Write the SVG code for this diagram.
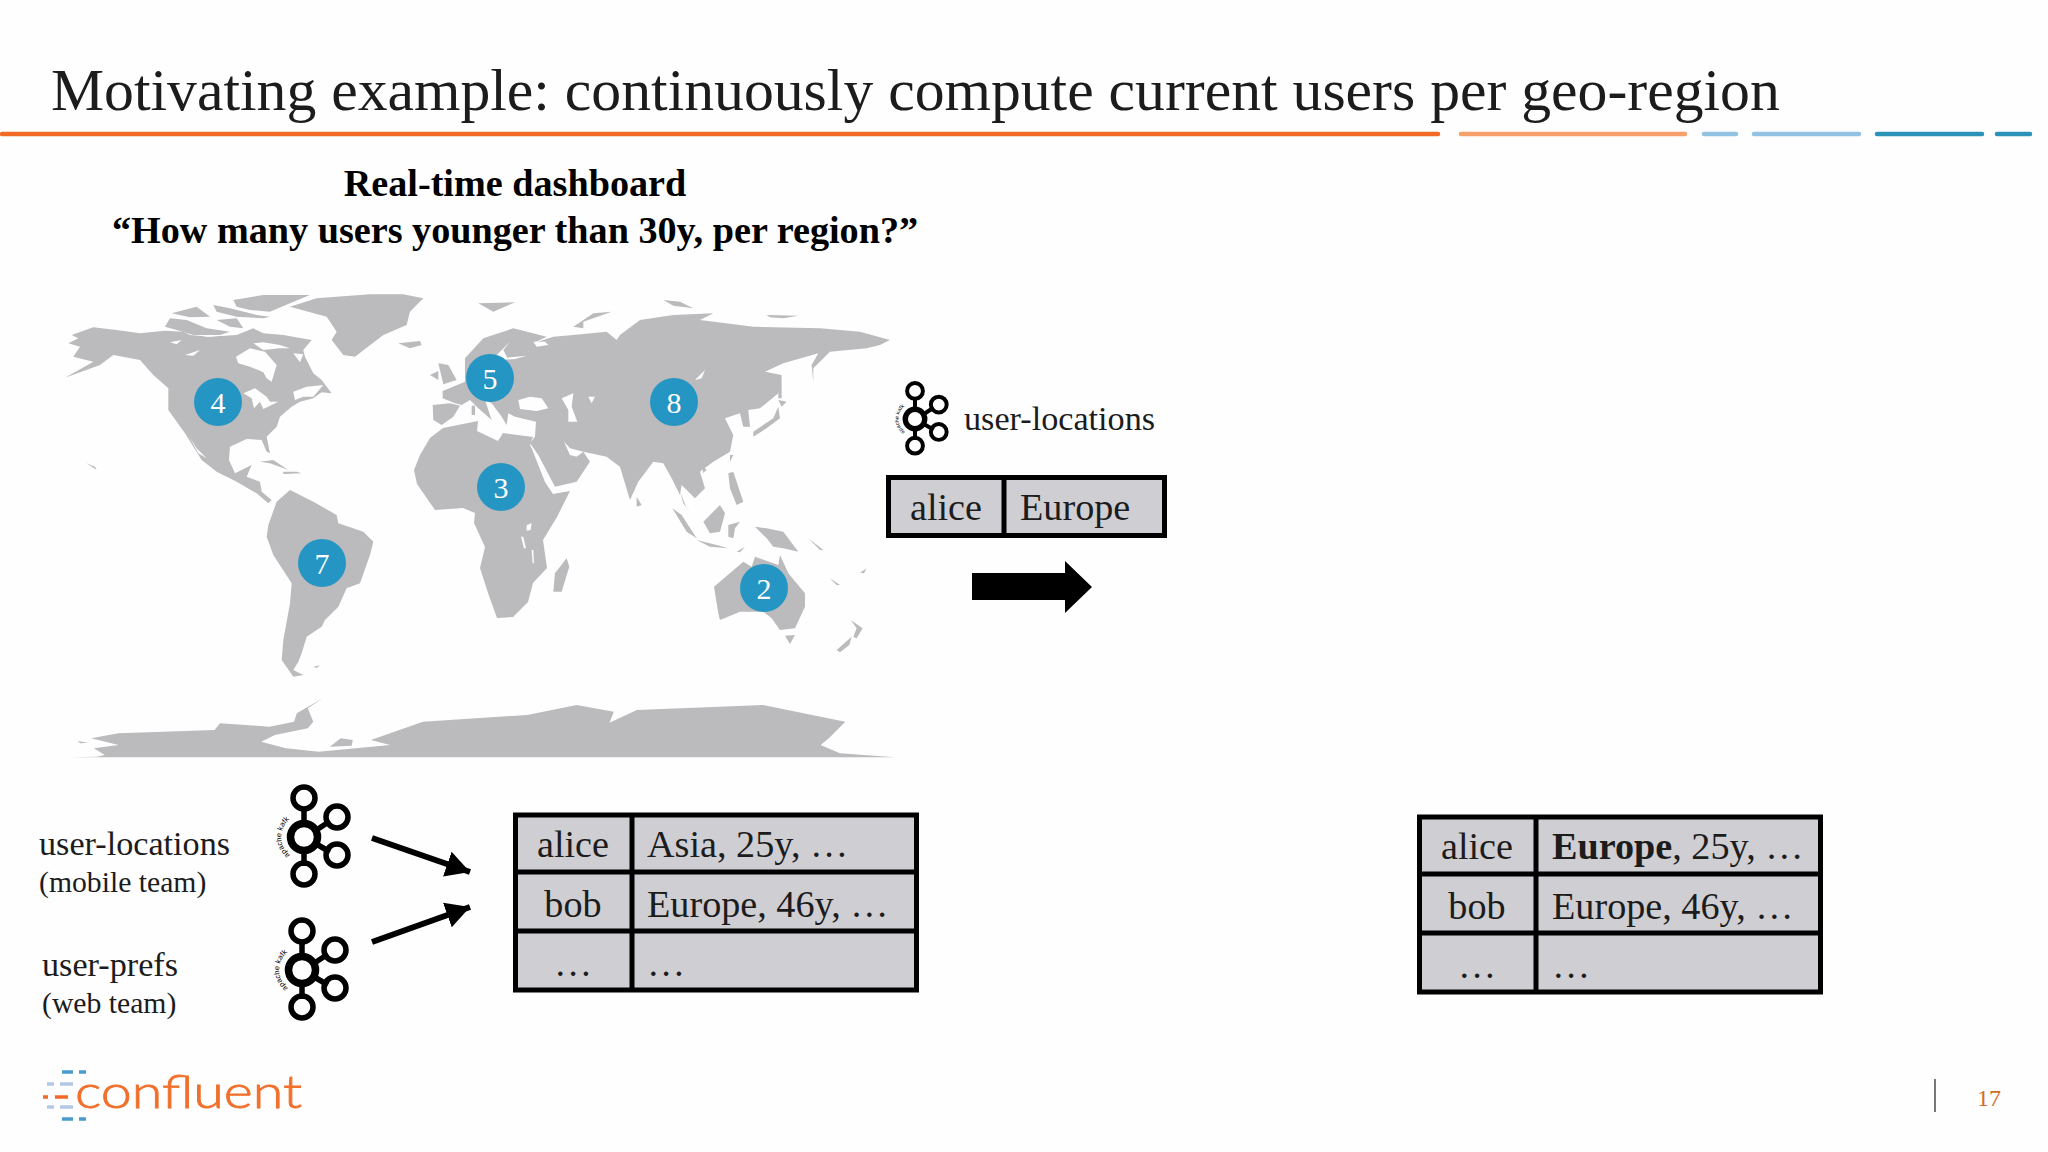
<svg xmlns="http://www.w3.org/2000/svg" xmlns:xlink="http://www.w3.org/1999/xlink" width="2048" height="1152" viewBox="0 0 2048 1152">
<style>
text{font-family:"Liberation Serif","Times New Roman",serif;fill:#1c1c1c}
.cell{font-size:38.200px}
.lab{font-size:34.200px}
.sub{font-size:29.700px}
.head{font-size:38.200px;font-weight:bold;text-anchor:middle;fill:#000}
.mid{text-anchor:middle}
.num{font-size:30px;fill:#fff;text-anchor:middle}
.tb{fill:#cfced2;stroke:#000;stroke-width:5}
.ln{stroke:#000;stroke-width:5;fill:none}
.land polygon{fill:#bbbabc}
.land polygon.sea{fill:#fefefe}
.pin{fill:#2596c4}
.bar{stroke-width:4.500px;stroke-linecap:round;fill:none}
.dash{stroke-width:3.500px;fill:none}
.kr{fill:none;stroke:#000;stroke-width:5.500px}
.kl{stroke:#000;stroke-width:5.500px}
.kc{fill:none;stroke:#000;stroke-width:7.500px}
.kt{font-family:"Liberation Sans",sans-serif;font-size:7.500px;fill:#000}
</style>
<defs>
<marker id="ah" markerUnits="userSpaceOnUse" markerWidth="26" markerHeight="28" refX="24" refY="14" orient="auto"><path d="M0,1 L24,14 L0,27 Z" fill="#000"/></marker>
<path id="karc" d="M290,855 A22.800,22.800 0 0 1 290,819"/>
<g id="kafka">
<line class="kl" x1="304" y1="808" x2="304" y2="866"/>
<line class="kl" x1="318" y1="829" x2="330" y2="821"/>
<line class="kl" x1="318" y1="845" x2="330" y2="852"/>
<circle class="kr" cx="304" cy="798" r="11"/>
<circle class="kr" cx="337" cy="817" r="11"/>
<circle class="kr" cx="337" cy="855" r="11"/>
<circle class="kr" cx="304" cy="874" r="11"/>
<circle cx="304" cy="837" r="14" fill="#fefefe"/>
<circle class="kc" cx="304" cy="837" r="13.500"/>
<text class="kt"><textPath xlink:href="#karc" href="#karc">apache kafka</textPath></text>
</g>
</defs>
<rect width="2048" height="1152" fill="#fefefe"/>

<g id="title">
<text x="51" y="110" font-size="59.700">Motivating example: continuously compute current users per geo-region</text>
<line class="bar" x1="2" y1="134" x2="1438" y2="134" stroke="#f26a25"/>
<line class="bar" x1="1461" y1="134" x2="1685" y2="134" stroke="#f6a06c"/>
<line class="bar" x1="1704" y1="134" x2="1736" y2="134" stroke="#92c3e2"/>
<line class="bar" x1="1754" y1="134" x2="1859" y2="134" stroke="#92c3e2"/>
<line class="bar" x1="1877" y1="134" x2="1982" y2="134" stroke="#2b93b8"/>
<line class="bar" x1="1997" y1="134" x2="2030" y2="134" stroke="#2b93b8"/>
</g>

<g id="heading">
<text class="head" x="515" y="196">Real-time dashboard</text>
<text class="head" x="515" y="243">“How many users younger than 30y, per region?”</text>
</g>

<g id="map" class="land">
<g transform="translate(50,285) scale(0.3333)">
<polygon points="65,150 130,127 200,135 270,145 345,137 400,140 470,155 560,150 610,130 640,145 700,150 785,165 760,195 765,215 790,265 815,285 845,325 815,322 790,340 750,350 725,365 690,395 680,425 650,455 660,505 650,500 635,465 590,462 540,485 537,525 555,565 605,540 590,575 630,590 635,620 665,645 655,655 620,625 560,590 500,560 455,525 405,445 355,375 355,310 310,270 270,225 190,210 150,240 45,278 130,230 70,215 90,185 55,175 85,160"/>
<polygon class="sea" points="558,215 600,190 645,200 680,240 665,290 650,280 640,262 600,245 565,235"/>
<polygon class="sea" points="580,325 615,310 650,335 660,350 685,350 640,372 630,350 612,370 605,340"/>
<polygon class="sea" points="730,320 770,305 820,300 790,335 760,335 735,345"/>
<polygon class="sea" points="418,455 440,490 470,520 445,505"/>
<polygon class="sea" points="360,172 395,165 380,178"/>
<polygon class="sea" points="405,210 450,195 430,212"/>
<polygon class="sea" points="610,175 640,172 690,180 720,190 690,190 640,195"/>
<polygon class="sea" points="400,140 470,145 540,150 480,155 420,150"/>
<polygon class="sea" points="730,205 760,208 750,232"/>
<polygon points="345,125 360,100 410,105 470,130 540,140 510,150 430,150 380,135"/>
<polygon points="365,85 440,65 480,95 420,97"/>
<polygon points="490,60 540,70 620,90 660,95 640,100 560,95 500,80"/>
<polygon points="550,45 640,30 780,30 720,55 660,80 600,75 560,65"/>
<polygon points="500,105 560,100 580,130 540,125"/>
<polygon points="720,65 800,40 960,28 1060,28 1120,40 1080,80 1070,120 1000,150 915,215 880,210 845,165 860,140 830,95"/>
<polygon points="1045,175 1110,168 1115,180 1080,190"/>
<polygon points="630,530 670,525 715,555 660,535"/>
<polygon points="700,560 740,560 755,565 700,567"/>
<polygon points="110,535 135,545 140,555"/>
</g>
<g transform="translate(420,285) scale(0.3333)">
<polygon points="68,318 135,290 135,220 190,160 280,130 380,155 340,175 400,155 460,150 560,140 590,165 600,150 660,105 760,90 880,85 840,105 1000,125 1200,130 1320,140 1410,165 1380,180 1340,190 1230,200 1180,250 1180,290 1175,240 1195,205 1090,235 1035,260 1085,270 1075,325 1020,370 985,375 990,425 970,425 960,385 915,400 940,450 930,500 880,530 840,560 855,610 825,640 785,600 780,630 755,580 730,535 700,530 655,590 630,645 600,545 560,515 490,500 510,530 470,590 405,605 355,510 330,475 345,455 348,410 285,395 265,385 260,420 245,395 215,355 195,345 215,405 170,365 150,345 125,360 105,355 68,340"/>
<polygon class="sea" points="295,345 330,335 365,340 385,370 350,378 300,372"/>
<polygon class="sea" points="425,340 460,325 455,365 472,410 445,410 445,375"/>
<polygon class="sea" points="505,335 525,335 515,355"/>
<polygon class="sea" points="225,215 270,170 250,195 262,218 320,212 285,222 235,225"/>
<polygon class="sea" points="432,470 450,490 490,500 470,515 450,510"/>
<polygon class="sea" points="825,285 855,255 845,280"/>
<polygon class="sea" points="340,170 375,170 385,180 350,185"/>
<polygon points="38,360 90,355 120,362 100,395 65,420 40,405"/>
<polygon points="55,235 85,240 110,285 70,298"/>
<polygon points="30,270 55,258 55,285"/>
<polygon points="175,55 285,52 220,80"/>
<polygon points="460,125 520,85 575,80 490,110 490,130"/>
<polygon points="730,45 780,50 820,70 760,62"/>
<polygon points="1040,90 1135,92 1090,100 1050,97"/>
<polygon points="1000,440 1060,400 1075,365 1080,400 1040,430 1000,455"/>
<polygon points="1075,345 1100,350 1085,365"/>
<polygon points="1075,280 1085,275 1085,340 1075,340"/>
<polygon points="930,510 940,510 930,530"/>
<polygon points="850,545 860,555 848,565"/>
<polygon points="925,565 940,560 970,650 950,660 930,610"/>
<polygon points="650,635 665,660 650,665"/>
<polygon points="155,362 165,362 165,390 155,390"/>
</g>
<polygon points="443,428 478,421 477,431 498,441 503,433 533,437 530,445 532,449 545,482 553,494 570,491 557,517 543,540 547,568 533,583 528,602 513,617 497,618 488,593 480,568 485,547 474,523 475,513 463,508 435,510 417,484 414,470 420,455 430,438"/>
<g transform="translate(250,480) scale(0.3333)">
<polygon class="sea" points="830,135 845,130 842,150 830,152"/>
<polygon class="sea" points="813,170 820,170 828,205 822,205"/>
<polygon class="sea" points="845,210 850,210 852,250 848,250"/>
<polygon points="950,235 958,260 935,335 910,335 915,280"/>
<polygon points="55,135 80,65 120,30 190,65 260,105 265,130 340,155 370,185 360,225 330,310 290,325 265,380 225,420 215,440 170,470 155,520 145,545 130,570 160,585 130,590 95,540 100,480 120,370 125,310 70,225 50,170"/>
<polygon points="190,560 210,556 200,564"/>
</g>
<g transform="translate(640,490) scale(0.3333)">
<polygon points="97,55 125,75 170,145 140,125"/>
<polygon points="120,5 130,40 155,75 140,55"/>
<polygon points="170,150 230,165 265,175 210,170"/>
<polygon points="190,95 240,45 255,70 240,125 210,130"/>
<polygon points="265,105 300,95 285,115 280,145 265,140"/>
<polygon points="345,110 380,115 430,125 475,185 430,175 400,170 380,145"/>
<polygon points="222,290 310,215 335,230 345,200 415,225 420,195 445,250 495,310 495,350 465,415 420,420 395,385 370,365 300,365 240,390 235,370"/>
<polygon points="435,437 465,435 450,462"/>
<polygon points="632,390 668,415 650,445 640,440 650,415"/>
<polygon points="590,480 635,440 628,465 600,487"/>
<polygon points="660,248 680,235 672,250"/>
<polygon points="570,265 600,285 590,285"/>
<polygon points="505,145 550,180 540,180"/>
<polygon points="290,185 315,170 300,187"/>
</g>
<g transform="translate(50,680) scale(0.5485,0.3333)">
<polygon points="38,232 85,230 100,225 80,205 125,195 75,175 125,160 300,150 310,130 400,140 445,125 450,100 497,55 470,85 480,125 470,145 410,165 385,185 430,205 490,215 620,195 585,180 680,125 870,105 960,75 1028,95 1020,128 1070,90 1300,75 1450,125 1420,175 1405,195 1440,220 1540,232"/>
<polygon points="50,183 70,188 55,190"/>
<polygon points="510,200 530,175 552,180 550,197"/>
</g>
</g>

<g id="pins">
<g id="pin-4"><circle class="pin" cx="218" cy="402" r="24"/><text class="num" x="218" y="413">4</text></g>
<g id="pin-5"><circle class="pin" cx="490" cy="378" r="24"/><text class="num" x="490" y="389">5</text></g>
<g id="pin-8"><circle class="pin" cx="674" cy="402" r="24"/><text class="num" x="674" y="413">8</text></g>
<g id="pin-3"><circle class="pin" cx="501" cy="487" r="24"/><text class="num" x="501" y="498">3</text></g>
<g id="pin-7"><circle class="pin" cx="322" cy="563" r="24"/><text class="num" x="322" y="574">7</text></g>
<g id="pin-2"><circle class="pin" cx="764" cy="588" r="24"/><text class="num" x="764" y="599">2</text></g>
</g>

<g id="topic-new">
<use xlink:href="#kafka" href="#kafka" transform="translate(915,419) scale(0.72) translate(-304,-837)"/>
<text class="lab" x="964" y="430">user-locations</text>
</g>
<g id="record-new">
<rect class="tb" x="888.500" y="477.500" width="276" height="58"/>
<line class="ln" x1="1004" y1="477" x2="1004" y2="536"/>
<text class="cell mid" x="946" y="520">alice</text>
<text class="cell" x="1020" y="520">Europe</text>
</g>
<path id="block-arrow" d="M972,573 H1065 V561 L1092,587 L1065,613 V600 H972 Z" fill="#000"/>

<g id="topic-locations">
<use xlink:href="#kafka" href="#kafka"/>
<text class="lab" x="39" y="855">user-locations</text>
<text class="sub" x="39" y="892">(mobile team)</text>
</g>
<g id="topic-prefs">
<use xlink:href="#kafka" href="#kafka" transform="translate(-2,133)"/>
<text class="lab" x="42" y="976">user-prefs</text>
<text class="sub" x="42" y="1013">(web team)</text>
</g>

<g id="connectors">
<line x1="372" y1="838" x2="470" y2="872" stroke="#000" stroke-width="6" marker-end="url(#ah)"/>
<line x1="372" y1="942" x2="470" y2="907" stroke="#000" stroke-width="6" marker-end="url(#ah)"/>
</g>

<g id="table-before">
<rect class="tb" x="515.500" y="815" width="401" height="175"/>
<path class="ln" d="M515,872H916M515,931H916M632,815V990"/>
<text class="cell mid" x="573" y="857">alice</text>
<text class="cell" x="647" y="857">Asia, 25y, …</text>
<text class="cell mid" x="573" y="917">bob</text>
<text class="cell" x="647" y="917">Europe, 46y, …</text>
<text class="cell mid" x="573" y="976">…</text>
<text class="cell" x="647" y="976">…</text>
</g>
<g id="table-after">
<rect class="tb" x="1419.500" y="817" width="401" height="175"/>
<path class="ln" d="M1419,874H1820M1419,933H1820M1536,817V992"/>
<text class="cell mid" x="1477" y="859">alice</text>
<text class="cell" x="1552" y="859"><tspan font-weight="bold">Europe</tspan>, 25y, …</text>
<text class="cell mid" x="1477" y="919">bob</text>
<text class="cell" x="1552" y="919">Europe, 46y, …</text>
<text class="cell mid" x="1477" y="978">…</text>
<text class="cell" x="1552" y="978">…</text>
</g>

<g id="logo">
<path class="dash" stroke="#4a9acb" d="M62,1072H73M79,1072H86M62,1119H73M79,1119H86"/>
<path class="dash" stroke="#b4c8e6" d="M47,1084H54M60,1084H73M47,1107H54M60,1107H73"/>
<path class="dash" stroke="#f26a25" d="M43,1097H48M55,1097H68"/>
<text x="75" y="1108" font-size="46" textLength="227" lengthAdjust="spacingAndGlyphs" stroke="#f0702c" stroke-width="0.8" style="font-family:'Lato',sans-serif;font-weight:300;fill:#f0702c">confluent</text>
</g>

<g id="footer">
<line x1="1935" y1="1079" x2="1935" y2="1112" stroke="#777" stroke-width="2"/>
<text x="1989" y="1106" font-size="24" text-anchor="middle" style="fill:#cf6d2b">17</text>
</g>
</svg>
